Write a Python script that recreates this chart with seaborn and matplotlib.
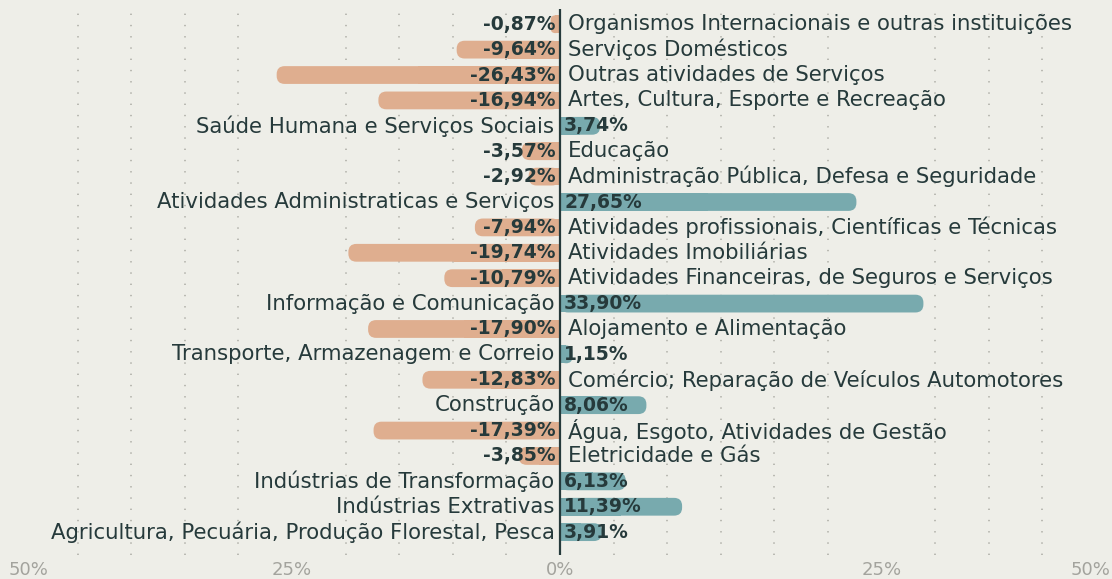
import matplotlib
matplotlib.use('Agg')
import matplotlib.pyplot as plt
import matplotlib.transforms as mtransforms
from matplotlib.patches import FancyBboxPatch, Rectangle
import seaborn as sns
import pandas as pd
import numpy as np

categories = [
    "Organismos Internacionais e outras instituições",
    "Serviços Domésticos",
    "Outras atividades de Serviços",
    "Artes, Cultura, Esporte e Recreação",
    "Saúde Humana e Serviços Sociais",
    "Educação",
    "Administração Pública, Defesa e Seguridade",
    "Atividades Administraticas e Serviços",
    "Atividades profissionais, Científicas e Técnicas",
    "Atividades Imobiliárias",
    "Atividades Financeiras, de Seguros e Serviços",
    "Informação e Comunicação",
    "Alojamento e Alimentação",
    "Transporte, Armazenagem e Correio",
    "Comércio; Reparação de Veículos Automotores",
    "Construção",
    "Água, Esgoto, Atividades de Gestão",
    "Eletricidade e Gás",
    "Indústrias de Transformação",
    "Indústrias Extrativas",
    "Agricultura, Pecuária, Produção Florestal, Pesca",
]
values = [-0.87, -9.64, -26.43, -16.94, 3.74, -3.57, -2.92, 27.65, -7.94, -19.74,
          -10.79, 33.90, -17.90, 1.15, -12.83, 8.06, -17.39, -3.85, 6.13, 11.39, 3.91]
tick_positions = [-50, -25, 0, 30, 50]
tick_labels = ["50%", "25%", "0%", "25%", "50%"]

BG = "#eeeee8"
NEG = "#dfae8f"
POS = "#78aaae"
TXT = "#263a3b"
GRID = "#b5b5ae"
TICK = "#a3a39d"

sns.set_theme(style="white")
plt.rcParams["font.family"] = ["DejaVu Sans"]
plt.rcParams["lines.scale_dashes"] = False

df = pd.DataFrame({"cat": categories, "val": values})
df["sign"] = np.where(df["val"] < 0, "neg", "pos")

W, H = 1112, 579
fig = plt.figure(figsize=(W / 100, H / 100), dpi=100, facecolor=BG)
ax_l, ax_r, ax_t, ax_b = 24, 1096, 9, 555
ax = fig.add_axes([ax_l / W, 1 - ax_b / H, (ax_r - ax_l) / W, (ax_b - ax_t) / H])
ax.set_facecolor(BG)

sns.barplot(data=df, y="cat", x="val", hue="sign", order=categories,
            hue_order=["neg", "pos"], palette={"neg": NEG, "pos": POS},
            dodge=False, width=0.7, saturation=1, legend=False, ax=ax)

xlim = (-50, 50)
ylim = (20.9, -0.6)
ax.set_xlim(*xlim)
ax.set_ylim(*ylim)

# rounded outer ends
px_per_x = (ax_r - ax_l) / (xlim[1] - xlim[0])
px_per_y = (ax_b - ax_t) / abs(ylim[0] - ylim[1])
aspect = px_per_x / px_per_y
r_px = 8
for p in list(ax.patches):
    bb = p.get_bbox()
    x0, x1 = min(bb.x0, bb.x1), max(bb.x0, bb.x1)
    y0, y1 = min(bb.y0, bb.y1), max(bb.y0, bb.y1)
    w = x1 - x0
    if not np.isfinite(w) or w == 0:
        p.remove()
        continue
    color = p.get_facecolor()
    p.remove()
    dr = min(r_px / px_per_x, w / 2)
    ax.add_patch(FancyBboxPatch((x0, y0), w, y1 - y0,
                                boxstyle=f"round,pad=0,rounding_size={dr}",
                                mutation_aspect=aspect, fc=color, ec="none", zorder=2))
    if x1 <= 0:
        ax.add_patch(Rectangle(((x0 + x1) / 2, y0), x1 - (x0 + x1) / 2, y1 - y0,
                               fc=color, ec="none", zorder=2))
    else:
        ax.add_patch(Rectangle((x0, y0), (x1 - x0) / 2, y1 - y0,
                               fc=color, ec="none", zorder=2))

ax.axvline(0, color=TXT, lw=1.6, zorder=4)

# grid
ax.set_xticks(np.arange(-50, 51, 5), minor=True)
ax.grid(which="minor", axis="x", color=GRID, lw=1.3, linestyle=(0, (1, 7.1)), zorder=0)
ax.grid(which="major", visible=False)
ax.set_xticks(tick_positions)
ax.set_xticklabels(tick_labels)
ax.tick_params(axis="x", which="both", length=0, pad=4, labelsize=13, colors=TICK)
ax.tick_params(axis="y", left=False, labelleft=False)
ax.set_xlabel("")
ax.set_ylabel("")
for s in ax.spines.values():
    s.set_visible(False)

tls = ax.get_xticklabels()
tls[0].set_transform(tls[0].get_transform() + mtransforms.ScaledTranslation(5 / 100, 0, fig.dpi_scale_trans))
tls[-1].set_transform(tls[-1].get_transform() + mtransforms.ScaledTranslation(-5 / 100, 0, fig.dpi_scale_trans))

left_v = mtransforms.offset_copy(ax.transData, fig=fig, x=-3, y=0, units="points")
right_c = mtransforms.offset_copy(ax.transData, fig=fig, x=6, y=0, units="points")
left_c = mtransforms.offset_copy(ax.transData, fig=fig, x=-4, y=0, units="points")
right_v = mtransforms.offset_copy(ax.transData, fig=fig, x=3, y=0, units="points")

CAT_FS = 15.3
VAL_FS = 13.5
for i, (c, v) in enumerate(zip(categories, values)):
    lab = f"{v:.2f}".replace(".", ",") + "%"
    if v < 0:
        ax.text(0, i, lab, ha="right", va="center", fontsize=VAL_FS, fontweight="bold",
                color=TXT, transform=left_v, zorder=5)
        ax.text(0, i, c, ha="left", va="center", fontsize=CAT_FS, color=TXT,
                transform=right_c, zorder=5)
    else:
        ax.text(0, i, c, ha="right", va="center", fontsize=CAT_FS, color=TXT,
                transform=left_c, zorder=5)
        ax.text(0, i, lab, ha="left", va="center", fontsize=VAL_FS, fontweight="bold",
                color=TXT, transform=right_v, zorder=5)

fig.savefig("out.png", dpi=100, facecolor=BG)
